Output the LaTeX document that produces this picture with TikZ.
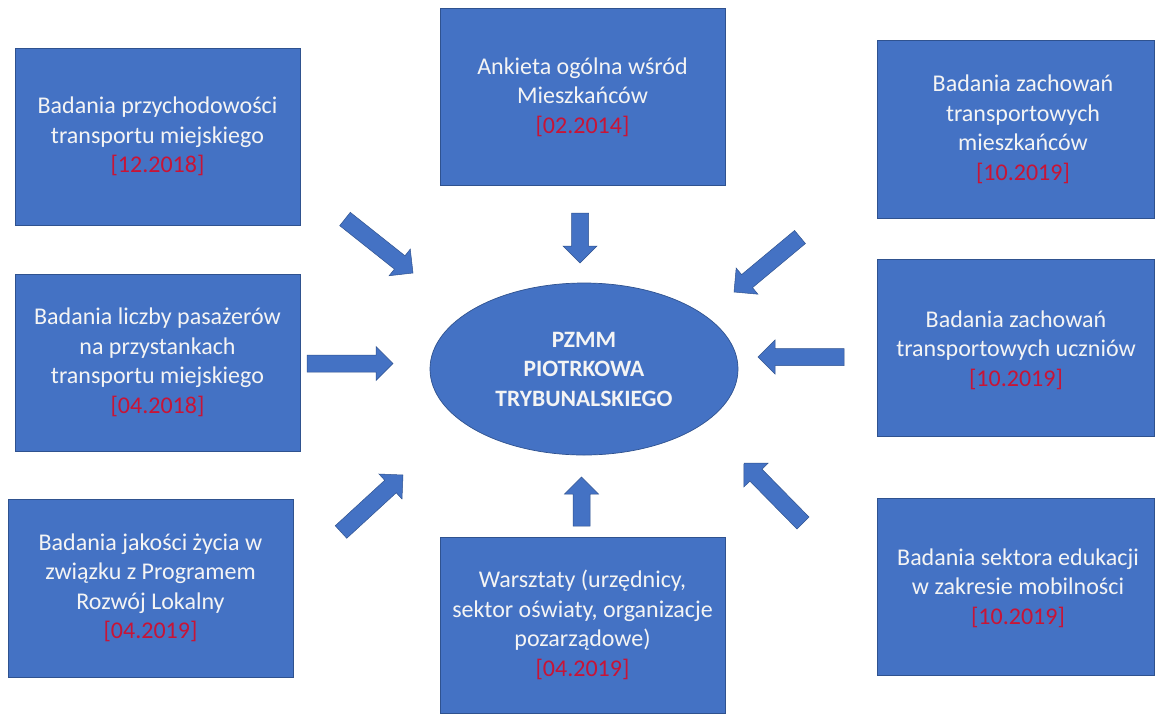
\documentclass[tikz,border=0pt]{standalone}
\usepackage{fontspec}
\setmainfont{Carlito}
\usetikzlibrary{calc,shapes.geometric}
\definecolor{boxblue}{HTML}{4472C4}
\definecolor{boxedge}{HTML}{2F528F}
\definecolor{datered}{HTML}{C81436}
\definecolor{txtwhite}{HTML}{F4F4F4}
\newcommand{\blockarrow}[2]{%
  \filldraw[barrow] ($(#1)!8.5pt!-90:(#2)$) -- ($(#2)!19.007pt!26.565:(#1)$) -- ($(#2)!24.042pt!45:(#1)$) -- (#2) -- ($(#2)!24.042pt!-45:(#1)$) -- ($(#2)!19.007pt!-26.565:(#1)$) -- ($(#1)!8.5pt!90:(#2)$) -- cycle;}
\newcommand{\dt}[1]{\textcolor{datered}{#1}}
\begin{document}
\begin{tikzpicture}[x=1pt,y=-1pt,
  box/.style={draw=boxedge, line width=0.7pt, fill=boxblue, text=txtwhite, align=center,
    font=\fontsize{24}{29.5}\selectfont, inner sep=0pt, minimum width=285, minimum height=177},
  rbox/.style={box, minimum width=277},
  lbl/.style={text=txtwhite, align=center, font=\fontsize{24}{29.5}\selectfont, inner sep=0pt},
  hub/.style={ellipse, draw=boxedge, line width=0.7pt, fill=boxblue, text=txtwhite, align=center,
    font=\fontsize{23.5}{29.5}\selectfont\bfseries, inner sep=0pt, minimum width=308, minimum height=172},
  barrow/.style={fill=boxblue, draw=boxedge, line width=0.5pt, line join=miter}]
\useasboundingbox (0,0) rectangle (1156,713);
\fill[white] (0,0) rectangle (1156,713);

\node[box] (b1) at (157.5,136.5) {Badania przychodowości\\transportu miejskiego\\\dt{[12.2018]}};
\node[box] (b2) at (582.5,97) {Ankieta ogólna wśród\\Mieszkańców\\\dt{[02.2014]}};
\node[rbox, minimum height=178] (b3) at (1015.5,129.5) {};
\node[lbl] (t3) at (1023,129.5) {Badania zachowań\\transportowych\\mieszkańców\\\dt{[10.2019]}};
\node[box] (b4) at (157.5,362.5) {Badania liczby pasażerów\\na przystankach\\transportu miejskiego\\\dt{[04.2018]}};
\node[rbox] (b5) at (1015.5,347.5) {};
\node[lbl] (t5) at (1016,350) {Badania zachowań\\transportowych uczniów\\\dt{[10.2019]}};
\node[box, minimum height=178] (b6) at (150.5,588) {Badania jakości życia w\\związku z Programem\\Rozwój Lokalny\\\dt{[04.2019]}};
\node[box, minimum height=176] (b7) at (582.5,625) {Warsztaty (urzędnicy,\\sektor oświaty, organizacje\\pozarządowe)\\\dt{[04.2019]}};
\node[rbox] (b8) at (1015.5,586.5) {};
\node[lbl] (t8) at (1018,588) {Badania sektora edukacji\\w zakresie mobilności\\\dt{[10.2019]}};

\node[hub] (hub) at (584,369) {PZMM\\PIOTRKOWA\\TRYBUNALSKIEGO};

\coordinate (a1s) at (345,219);   \coordinate (a1e) at (413,273);
\coordinate (a2s) at (580,213);   \coordinate (a2e) at (580,263);
\coordinate (a3s) at (800,237);   \coordinate (a3e) at (734,292);
\coordinate (a4s) at (307,363.5); \coordinate (a4e) at (393,363.5);
\coordinate (a5s) at (844,357);   \coordinate (a5e) at (758,357);
\coordinate (a6s) at (341,532);   \coordinate (a6e) at (403,475);
\coordinate (a7s) at (581.5,526); \coordinate (a7e) at (581.5,477);
\coordinate (a8s) at (803,523);   \coordinate (a8e) at (744,463);

\blockarrow{a1s}{a1e}
\blockarrow{a2s}{a2e}
\blockarrow{a3s}{a3e}
\blockarrow{a4s}{a4e}
\blockarrow{a5s}{a5e}
\blockarrow{a6s}{a6e}
\blockarrow{a7s}{a7e}
\blockarrow{a8s}{a8e}
\end{tikzpicture}
\end{document}
